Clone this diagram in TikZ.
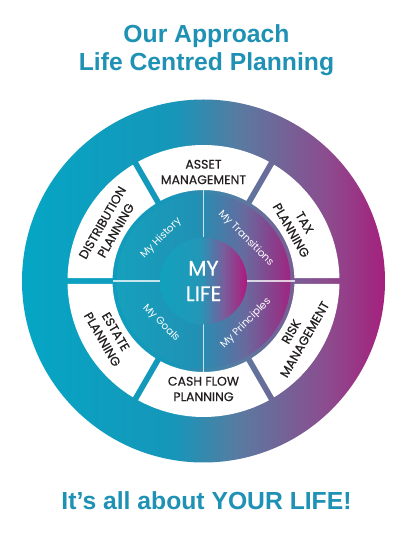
\documentclass[tikz,border=0pt]{standalone}
\usepackage{fontspec}
\newfontfamily\arialf{Liberation Sans}
\newfontfamily\wheelf[FakeBold=0.5]{Poppins}
\newfontfamily\wheell{Poppins}
\definecolor{titleblue}{RGB}{30,145,180}
\definecolor{segtext}{RGB}{35,31,32}
\definecolor{oA}{RGB}{5,166,197}
\definecolor{oB}{RGB}{22,150,185}
\definecolor{oC}{RGB}{90,122,160}
\definecolor{oD}{RGB}{140,76,142}
\definecolor{oE}{RGB}{165,32,125}
\definecolor{iA}{RGB}{22,160,189}
\definecolor{iB}{RGB}{32,145,180}
\definecolor{iC}{RGB}{105,105,158}
\definecolor{iD}{RGB}{158,38,128}
\definecolor{cA}{RGB}{16,162,190}
\definecolor{cB}{RGB}{36,150,183}
\definecolor{cC}{RGB}{123,92,154}
\definecolor{cD}{RGB}{176,24,124}
\pgfdeclarehorizontalshading{outershade}{100bp}{color(0bp)=(oA); color(25bp)=(oA); color(46bp)=(oB); color(55bp)=(oC); color(67bp)=(oD); color(75bp)=(oE); color(100bp)=(oE)}
\pgfdeclarehorizontalshading{innershade}{100bp}{color(0bp)=(iA); color(25bp)=(iA); color(48bp)=(iB); color(62bp)=(iC); color(75bp)=(iD); color(100bp)=(iD)}
\pgfdeclarehorizontalshading{centershade}{100bp}{color(0bp)=(cA); color(25bp)=(cA); color(48bp)=(cB); color(62bp)=(cC); color(75bp)=(cD); color(100bp)=(cD)}
\tikzset{
  titletext/.style={text=titleblue, font=\arialf\bfseries\fontsize{24.7}{28}\selectfont, anchor=base, inner sep=0pt},
  segtextstyle/.style={text=segtext, align=center, font=\wheelf\fontsize{12.5}{15.5}\selectfont, inner sep=0pt},
  innerlabel/.style={text=white, font=\wheell\fontsize{10.3}{12}\selectfont, inner sep=0pt},
  divider/.style={white, opacity=0.75, line width=1.2pt}
}
\begin{document}
\begin{tikzpicture}[x=1pt,y=1pt]
\useasboundingbox (0,0) rectangle (406,536);
\fill[white] (0,0) rectangle (406,536);
\node[titletext] (t1) at (206.5,493) {Our Approach};
\node[titletext] (t2) at (206.5,465) {Life Centred Planning};
\node[titletext] (t3) at (206.5,27) {It’s all about YOUR LIFE!};
\begin{scope}[shift={(203.5,255)}]
  \shade[shading=outershade] (0,0) circle[radius=181.5];
  \foreach \s in {0,60,120,180,240,300}{
    \pgfmathsetmacro\ao{\s+1.264}
    \pgfmathsetmacro\bo{\s+60-1.264}
    \pgfmathsetmacro\ai{\s+1.889}
    \pgfmathsetmacro\bi{\s+60-1.889}
    \fill[white] (\ao:136) arc[start angle=\ao, end angle=\bo, radius=136] -- (\bi:91) arc[start angle=\bi, end angle=\ai, radius=91] -- cycle;
  }
  \shade[shading=innershade] (0,0) circle[radius=87];
  \foreach \a in {0,90,180,270}{
    \draw[divider] (\a:43.5) -- (\a:91);
  }
  \shade[shading=centershade] (0,0) circle[radius=43.5];
  \node[text=white, align=center, font=\wheelf\fontsize{21}{25.5}\selectfont, inner sep=0pt] (mylife) at (0,0) {MY\\LIFE};
  \node[segtextstyle] (asset) at (90:109) {ASSET\\MANAGEMENT};
  \node[segtextstyle, rotate=-60] (tax) at (30:109) {TAX\\PLANNING};
  \node[segtextstyle, rotate=60] (risk) at (-30:109) {RISK\\MANAGEMENT};
  \node[segtextstyle] (cash) at (-90:108) {CASH FLOW\\PLANNING};
  \node[segtextstyle, rotate=-60] (estate) at (210:109) {ESTATE\\PLANNING};
  \node[segtextstyle, rotate=60] (distr) at (150:109) {DISTRIBUTION\\PLANNING};
  \node[innerlabel, rotate=45] (hist) at (135:60) {My History};
  \node[innerlabel, rotate=-45] (trans) at (45:60) {My Transitions};
  \node[innerlabel, rotate=-45] (goals) at (225:60) {My Goals};
  \node[innerlabel, rotate=45] (princ) at (315:60) {My Principles};
\end{scope}
\end{tikzpicture}
\end{document}
